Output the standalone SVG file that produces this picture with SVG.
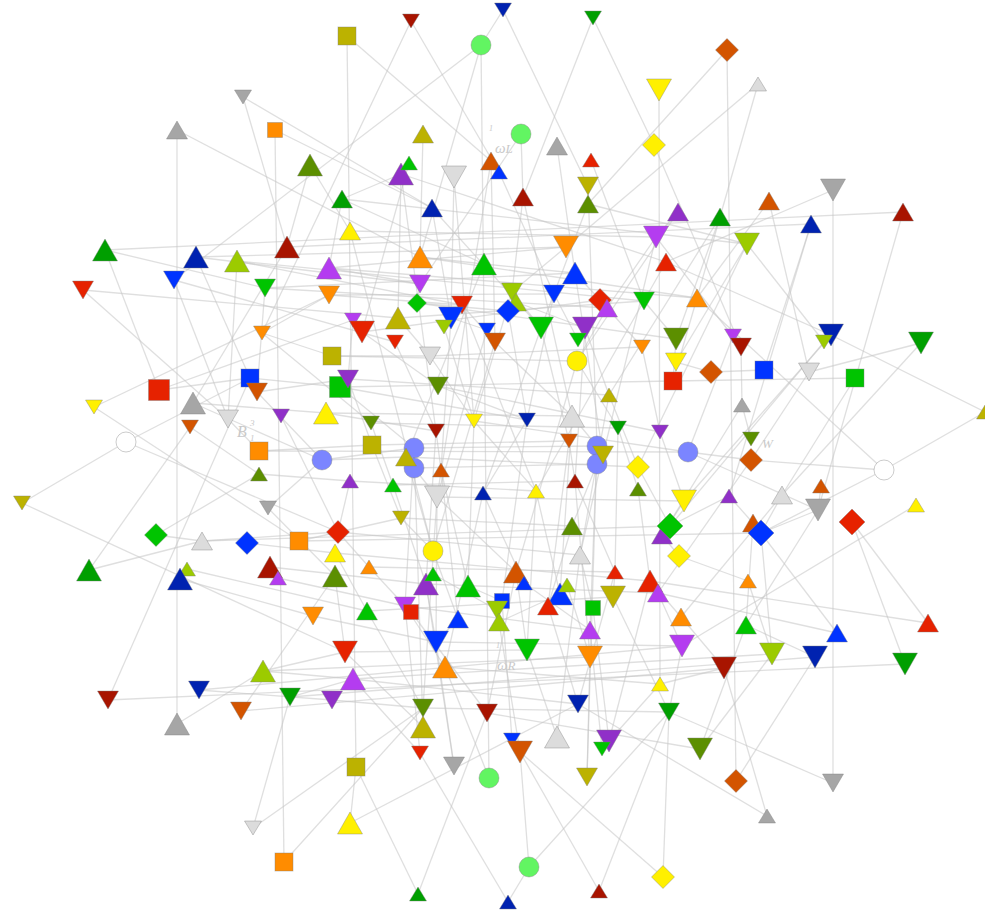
<svg xmlns="http://www.w3.org/2000/svg" width="985" height="910" viewBox="0 0 985 910">
<style>
#edges path{stroke:#c4c4c4;stroke-opacity:.55;stroke-width:1.3;fill:none}
use{stroke:#808080;stroke-opacity:.5;stroke-width:.8}
.lbl{font-family:"Liberation Serif",serif;font-style:italic;fill:#c9c9c9}
.gy{fill:#a6a6a6}.lg{fill:#dcdcdc}.or{fill:#ff8c00}.ob{fill:#d35400}.ol{fill:#bcb200}.og{fill:#5c8f00}.yg{fill:#9ccb00}.gr{fill:#009f00}.lgr{fill:#00c400}.rd{fill:#e62200}.dr{fill:#a81400}.bl{fill:#0033ff}.db{fill:#0022b0}.pu{fill:#b43cf0}.dp{fill:#9030c8}.ye{fill:#fff000}.pw{fill:#7b85ff}.mg{fill:#62f562}.wh{fill:#ffffff}
</style>
<defs>
<path id="uL" d="M0-11L12.5 11H-12.5Z"/>
<path id="uM" d="M0-9L10.5 9H-10.5Z"/>
<path id="uS" d="M0-7L8.5 7H-8.5Z"/>
<path id="dL" d="M0 11L12.5-11H-12.5Z"/>
<path id="dM" d="M0 9L10.5-9H-10.5Z"/>
<path id="dS" d="M0 7L8.5-7H-8.5Z"/>
<rect id="sL" x="-10.5" y="-10.5" width="21" height="21"/>
<rect id="sM" x="-9" y="-9" width="18" height="18"/>
<rect id="sS" x="-7.5" y="-7.5" width="15" height="15"/>
<path id="mL" d="M0-13L13 0 0 13-13 0Z"/>
<path id="mM" d="M0-11.5L11.5 0 0 11.5-11.5 0Z"/>
<path id="mS" d="M0-9.5L9.5 0 0 9.5-9.5 0Z"/>
<circle id="c" r="10"/>
</defs>
<rect width="985" height="910" fill="#fff"/>
<g id="edges">
<path d="M105 250L903 212"/><path d="M108 700L905 664"/><path d="M196 257L566 247"/><path d="M287 247L811 224"/><path d="M174 280L395 342"/><path d="M83 290L398 318"/><path d="M94 407L329 295"/><path d="M94 407L299 541"/><path d="M159 390L353 320"/><path d="M159 390L250 378"/><path d="M105 250L159 390"/><path d="M83 290L228 419"/><path d="M126 442L250 378"/><path d="M126 442L338 532"/><path d="M22 503L126 442"/><path d="M22 503L345 652"/><path d="M156 535L202 541"/><path d="M156 535L259 474"/><path d="M89 570L190 427"/><path d="M89 570L202 541"/><path d="M108 700L250 378"/><path d="M177 130L177 724"/><path d="M177 130L420 257"/><path d="M243 97L432 208"/><path d="M243 97L287 247"/><path d="M275 130L284 862"/><path d="M275 130L432 208"/><path d="M310 165L287 247"/><path d="M310 165L350 231"/><path d="M347 36L356 767"/><path d="M347 36L491 161"/><path d="M411 21L262 333"/><path d="M411 21L499 172"/><path d="M503 10L481 45"/><path d="M503 10L588 186"/><path d="M481 45L174 280"/><path d="M481 45L489 778"/><path d="M481 45L420 257"/><path d="M593 18L523 197"/><path d="M593 18L654 145"/><path d="M727 50L736 781"/><path d="M727 50L588 204"/><path d="M758 84L720 217"/><path d="M758 84L566 247"/><path d="M659 90L660 684"/><path d="M654 145L741 347"/><path d="M833 190L833 783"/><path d="M833 190L666 262"/><path d="M903 212L818 510"/><path d="M811 224L764 370"/><path d="M921 343L809 372"/><path d="M921 343L782 495"/><path d="M985 412L831 335"/><path d="M985 412L884 470"/><path d="M884 470L761 533"/><path d="M884 470L751 460"/><path d="M916 505L682 646"/><path d="M852 522L928 623"/><path d="M852 522L905 664"/><path d="M928 623L650 581"/><path d="M833 783L669 712"/><path d="M767 816L578 704"/><path d="M767 816L724 668"/><path d="M700 749L746 625"/><path d="M669 712L663 877"/><path d="M663 877L520 752"/><path d="M599 891L520 752"/><path d="M599 891L669 712"/><path d="M529 867L520 752"/><path d="M529 867L669 712"/><path d="M508 902L420 753"/><path d="M508 902L529 867"/><path d="M418 894L356 767"/><path d="M418 894L487 713"/><path d="M350 823L578 704"/><path d="M350 823L356 767"/><path d="M253 828L423 708"/><path d="M253 828L290 697"/><path d="M284 862L423 708"/><path d="M177 724L263 671"/><path d="M237 261L228 419"/><path d="M237 261L644 301"/><path d="M265 288L607 308"/><path d="M329 268L697 298"/><path d="M340 387L673 381"/><path d="M259 451L688 452"/><path d="M202 541L670 526"/><path d="M299 541L761 533"/><path d="M263 671L590 657"/><path d="M199 690L682 646"/><path d="M241 711L724 668"/><path d="M353 679L772 654"/><path d="M290 697L815 657"/><path d="M350 231L433 551"/><path d="M401 174L436 431"/><path d="M454 177L474 421"/><path d="M491 161L437 497"/><path d="M523 197L572 416"/><path d="M588 186L597 446"/><path d="M656 237L603 455"/><path d="M747 244L638 467"/><path d="M666 262L536 491"/><path d="M720 217L609 395"/><path d="M678 212L577 361"/><path d="M769 201L809 372"/><path d="M811 224L729 496"/><path d="M831 335L684 501"/><path d="M824 342L670 526"/><path d="M742 405L662 535"/><path d="M751 460L658 593"/><path d="M782 495L681 617"/><path d="M818 510L746 625"/><path d="M761 533L772 654"/><path d="M423 727L414 448"/><path d="M487 713L516 572"/><path d="M557 737L580 555"/><path d="M578 704L615 572"/><path d="M609 741L650 581"/><path d="M587 777L597 446"/><path d="M454 766L426 584"/><path d="M420 753L405 606"/><path d="M423 708L437 497"/><path d="M196 257L250 378"/><path d="M287 247L193 403"/><path d="M265 288L257 392"/><path d="M329 295L262 333"/><path d="M174 280L228 419"/><path d="M105 250L265 288"/>
<path d="M401 174L398 318"/><path d="M401 174L342 199"/><path d="M409 163L362 332"/><path d="M423 134L420 257"/><path d="M454 177L451 318"/><path d="M491 161L495 342"/><path d="M499 172L554 294"/><path d="M521 134L523 197"/><path d="M521 134L420 284"/><path d="M557 146L575 273"/><path d="M591 160L644 301"/><path d="M588 204L541 328"/><path d="M588 204L747 244"/><path d="M523 197L512 292"/><path d="M342 199L329 268"/><path d="M342 199L484 264"/><path d="M432 208L451 318"/><path d="M432 208L541 328"/><path d="M678 212L656 237"/><path d="M720 217L676 339"/><path d="M720 217L697 298"/><path d="M769 201L697 298"/><path d="M656 237L741 347"/><path d="M656 237L607 308"/><path d="M747 244L676 362"/><path d="M747 244L824 342"/><path d="M666 262L831 335"/><path d="M697 298L673 381"/><path d="M697 298L884 470"/><path d="M676 339L673 381"/><path d="M741 347L742 405"/><path d="M733 336L688 452"/><path d="M676 362L711 372"/><path d="M711 372L764 370"/><path d="M673 381L855 378"/><path d="M809 372L751 460"/><path d="M855 378L782 495"/><path d="M742 405L751 439"/><path d="M660 432L684 501"/><path d="M688 452L751 460"/>
<path d="M329 268L420 284"/><path d="M329 295L462 305"/><path d="M262 333L332 356"/><path d="M262 333L371 423"/><path d="M332 356L430 356"/><path d="M250 378L340 387"/><path d="M257 392L348 379"/><path d="M257 392L322 460"/><path d="M193 403L326 413"/><path d="M228 419L259 451"/><path d="M190 427L259 474"/><path d="M281 416L338 532"/><path d="M326 413L436 431"/><path d="M259 451L372 445"/><path d="M322 460L406 457"/><path d="M322 460L268 508"/><path d="M259 474L350 481"/><path d="M268 508L335 576"/><path d="M202 541L338 532"/><path d="M247 543L335 553"/><path d="M299 541L401 518"/><path d="M187 569L367 611"/><path d="M180 579L313 616"/><path d="M270 567L426 584"/><path d="M278 578L405 606"/><path d="M313 616L436 642"/><path d="M263 671L353 679"/><path d="M263 671L345 652"/><path d="M199 690L332 700"/><path d="M241 711L335 576"/><path d="M290 697L353 679"/><path d="M332 700L423 708"/>
<path d="M420 257L484 264"/><path d="M420 284L417 303"/><path d="M417 303L508 311"/><path d="M484 264L575 273"/><path d="M566 247L512 292"/><path d="M575 273L600 300"/><path d="M462 305L495 342"/><path d="M398 318L430 356"/><path d="M353 320L348 379"/><path d="M362 332L438 386"/><path d="M451 318L487 330"/><path d="M444 327L474 421"/><path d="M512 292L541 328"/><path d="M516 302L585 328"/><path d="M508 311L527 420"/><path d="M554 294L578 340"/><path d="M600 300L642 347"/><path d="M607 308L577 361"/><path d="M644 301L676 339"/><path d="M487 330L437 497"/><path d="M495 342L572 416"/><path d="M541 328L569 441"/><path d="M585 328L609 395"/><path d="M395 342L436 431"/><path d="M430 356L474 421"/><path d="M577 361L618 428"/><path d="M642 347L660 432"/><path d="M348 379L372 445"/><path d="M340 387L414 448"/><path d="M438 386L527 420"/><path d="M609 395L638 467"/><path d="M371 423L393 485"/><path d="M436 431L441 470"/><path d="M474 421L536 491"/><path d="M527 420L483 493"/><path d="M572 416L597 446"/><path d="M618 428L638 489"/><path d="M569 441L575 481"/><path d="M372 445L401 518"/><path d="M414 468L437 497"/><path d="M597 464L572 526"/><path d="M603 455L580 555"/><path d="M406 457L433 551"/><path d="M441 470L468 586"/><path d="M350 481L338 532"/><path d="M393 485L426 584"/><path d="M437 497L516 572"/><path d="M483 493L524 583"/><path d="M536 491L560 594"/><path d="M575 481L615 572"/><path d="M638 467L670 526"/><path d="M638 489L650 581"/><path d="M401 518L433 551"/><path d="M338 532L369 567"/><path d="M572 526L548 606"/><path d="M580 555L593 608"/><path d="M433 551L458 619"/><path d="M335 553L367 611"/><path d="M335 576L345 652"/><path d="M369 567L405 606"/><path d="M433 574L497 610"/><path d="M426 584L436 642"/><path d="M468 586L502 601"/><path d="M516 572L527 650"/><path d="M524 583L590 630"/><path d="M615 572L613 597"/><path d="M650 581L681 617"/><path d="M567 585L590 657"/><path d="M560 594L499 622"/><path d="M405 606L445 667"/><path d="M411 612L487 713"/><path d="M367 611L423 708"/><path d="M502 601L512 740"/><path d="M497 610L520 752"/><path d="M548 606L578 704"/><path d="M458 619L436 642"/><path d="M593 608L609 741"/><path d="M613 597L669 712"/><path d="M590 630L602 749"/><path d="M436 642L454 766"/><path d="M527 650L557 737"/><path d="M345 652L423 727"/><path d="M445 667L489 778"/><path d="M590 657L587 777"/><path d="M353 679L420 753"/>
<path d="M684 501L662 535"/><path d="M729 496L753 523"/><path d="M782 495L761 533"/><path d="M821 486L818 510"/><path d="M818 510L761 533"/><path d="M670 526L729 496"/><path d="M662 535L679 556"/><path d="M679 556L748 581"/><path d="M761 533L837 633"/><path d="M753 523L746 625"/><path d="M658 593L682 646"/><path d="M748 581L772 654"/><path d="M681 617L724 668"/><path d="M746 625L815 657"/><path d="M837 633L658 593"/><path d="M682 646L669 712"/><path d="M772 654L700 749"/><path d="M815 657L736 781"/><path d="M724 668L660 684"/><path d="M660 684L609 741"/><path d="M322 460L414 448"/><path d="M414 448L597 446"/><path d="M688 452L818 510"/><path d="M322 460L193 403"/><path d="M414 468L597 464"/>
<path d="M329 268L566 247"/><path d="M350 231L656 237"/><path d="M342 199L747 244"/><path d="M401 174L666 262"/><path d="M420 257L697 298"/><path d="M265 288L575 273"/><path d="M196 257L420 284"/><path d="M237 261L462 305"/><path d="M329 295L554 294"/><path d="M362 332L600 300"/><path d="M398 318L644 301"/><path d="M417 303L676 339"/><path d="M430 356L642 347"/><path d="M332 356L577 361"/><path d="M348 379L609 395"/><path d="M326 413L572 416"/><path d="M371 423L618 428"/><path d="M372 445L569 441"/><path d="M340 387L527 420"/><path d="M438 386L660 432"/><path d="M474 421L688 452"/><path d="M406 457L638 467"/><path d="M393 485L575 481"/><path d="M350 481L536 491"/><path d="M437 497L684 501"/><path d="M401 518L572 526"/><path d="M338 532L580 555"/><path d="M369 567L615 572"/><path d="M335 553L650 581"/><path d="M426 584L658 593"/><path d="M367 611L613 597"/><path d="M405 606L590 630"/><path d="M436 642L682 646"/><path d="M345 652L527 650"/><path d="M445 667L660 684"/><path d="M353 679L578 704"/><path d="M423 708L669 712"/><path d="M487 713L700 749"/>
<path d="M484 264L406 457"/><path d="M575 273L603 455"/><path d="M512 292L474 421"/><path d="M554 294L527 420"/><path d="M462 305L536 491"/><path d="M451 318L441 470"/><path d="M541 328L483 493"/><path d="M585 328L575 481"/><path d="M495 342L433 551"/><path d="M577 361L516 572"/><path d="M609 395L580 555"/><path d="M572 416L560 594"/><path d="M527 420L502 601"/><path d="M436 431L426 584"/><path d="M474 421L468 586"/><path d="M618 428L615 572"/><path d="M569 441L548 606"/><path d="M597 446L590 630"/><path d="M414 448L405 606"/><path d="M441 470L458 619"/><path d="M536 491L527 650"/><path d="M483 493L445 667"/><path d="M575 481L590 657"/><path d="M437 497L436 642"/>
</g>
<g id="labels">
<text class="lbl" x="489" y="131" font-size="8">1</text>
<text class="lbl" x="495" y="153" font-size="15">ω<tspan font-size="13">L</tspan></text>
<text class="lbl" x="237" y="437" font-size="16">B</text>
<text class="lbl" x="250" y="426" font-size="9">3</text>
<text class="lbl" x="250" y="441" font-size="9">1</text>
<text class="lbl" x="762" y="448" font-size="13">W</text>
<text class="lbl" x="496" y="648" font-size="8">1</text>
<text class="lbl" x="497" y="670" font-size="15">ω<tspan font-size="13">R</tspan></text>
</g>
<g id="nodes">
<g id="n1"><use href="#sM" x="347" y="36" class="ol"/></g>
<g id="n2"><use href="#dS" x="411" y="21" class="dr"/></g>
<g id="n3"><use href="#dS" x="503" y="10" class="db"/></g>
<g id="n4"><use href="#dS" x="593" y="18" class="gr"/></g>
<g id="n5"><use href="#c" x="481" y="45" class="mg"/></g>
<g id="n6"><use href="#mM" x="727" y="50" class="ob"/></g>
<g id="n7"><use href="#uS" x="758" y="84" class="lg"/></g>
<g id="n8"><use href="#dL" x="659" y="90" class="ye"/></g>
<g id="n9"><use href="#dS" x="243" y="97" class="gy"/></g>
<g id="n10"><use href="#uM" x="177" y="130" class="gy"/></g>
<g id="n11"><use href="#sS" x="275" y="130" class="or"/></g>
<g id="n12"><use href="#uL" x="310" y="165" class="og"/></g>
<g id="n13"><use href="#uM" x="423" y="134" class="ol"/></g>
<g id="n14"><use href="#c" x="521" y="134" class="mg"/></g>
<g id="n15"><use href="#mM" x="654" y="145" class="ye"/></g>
<g id="n16"><use href="#uM" x="557" y="146" class="gy"/></g>
<g id="n17"><use href="#uS" x="591" y="160" class="rd"/></g>
<g id="n18"><use href="#uL" x="401" y="174" class="dp"/></g>
<g id="n19"><use href="#uS" x="409" y="163" class="lgr"/></g>
<g id="n20"><use href="#dL" x="454" y="177" class="lg"/></g>
<g id="n21"><use href="#uM" x="491" y="161" class="ob"/></g>
<g id="n22"><use href="#uS" x="499" y="172" class="bl"/></g>
<g id="n23"><use href="#dM" x="588" y="186" class="ol"/></g>
<g id="n24"><use href="#uM" x="588" y="204" class="og"/></g>
<g id="n25"><use href="#uM" x="523" y="197" class="dr"/></g>
<g id="n26"><use href="#uM" x="342" y="199" class="gr"/></g>
<g id="n27"><use href="#uM" x="432" y="208" class="db"/></g>
<g id="n28"><use href="#uM" x="350" y="231" class="ye"/></g>
<g id="n29"><use href="#uM" x="678" y="212" class="dp"/></g>
<g id="n30"><use href="#uM" x="720" y="217" class="gr"/></g>
<g id="n31"><use href="#uM" x="769" y="201" class="ob"/></g>
<g id="n32"><use href="#dL" x="833" y="190" class="gy"/></g>
<g id="n33"><use href="#uM" x="903" y="212" class="dr"/></g>
<g id="n34"><use href="#uM" x="811" y="224" class="db"/></g>
<g id="n35"><use href="#dL" x="656" y="237" class="pu"/></g>
<g id="n36"><use href="#dL" x="747" y="244" class="yg"/></g>
<g id="n37"><use href="#uM" x="666" y="262" class="rd"/></g>
<g id="n38"><use href="#uM" x="697" y="298" class="or"/></g>
<g id="n39"><use href="#uL" x="105" y="250" class="gr"/></g>
<g id="n40"><use href="#uL" x="196" y="257" class="db"/></g>
<g id="n41"><use href="#uL" x="237" y="261" class="yg"/></g>
<g id="n42"><use href="#uL" x="287" y="247" class="dr"/></g>
<g id="n43"><use href="#dM" x="83" y="290" class="rd"/></g>
<g id="n44"><use href="#dM" x="174" y="280" class="bl"/></g>
<g id="n45"><use href="#dM" x="265" y="288" class="lgr"/></g>
<g id="n46"><use href="#uL" x="329" y="268" class="pu"/></g>
<g id="n47"><use href="#dM" x="329" y="295" class="or"/></g>
<g id="n48"><use href="#dS" x="262" y="333" class="or"/></g>
<g id="n49"><use href="#sM" x="332" y="356" class="ol"/></g>
<g id="n50"><use href="#sM" x="250" y="378" class="bl"/></g>
<g id="n51"><use href="#dM" x="257" y="392" class="ob"/></g>
<g id="n52"><use href="#sL" x="159" y="390" class="rd"/></g>
<g id="n53"><use href="#uL" x="193" y="403" class="gy"/></g>
<g id="n54"><use href="#dS" x="94" y="407" class="ye"/></g>
<g id="n55"><use href="#dS" x="190" y="427" class="ob"/></g>
<g id="n56"><use href="#dM" x="228" y="419" class="lg"/></g>
<g id="n57"><use href="#dS" x="281" y="416" class="dp"/></g>
<g id="n58"><use href="#uL" x="326" y="413" class="ye"/></g>
<g id="n59"><use href="#sM" x="259" y="451" class="or"/></g>
<g id="n60"><use href="#c" x="126" y="442" class="wh"/></g>
<g id="n61"><use href="#c" x="322" y="460" class="pw"/></g>
<g id="n62"><use href="#uL" x="420" y="257" class="or"/></g>
<g id="n63"><use href="#dM" x="420" y="284" class="pu"/></g>
<g id="n64"><use href="#mS" x="417" y="303" class="lgr"/></g>
<g id="n65"><use href="#uL" x="484" y="264" class="lgr"/></g>
<g id="n66"><use href="#dL" x="566" y="247" class="or"/></g>
<g id="n67"><use href="#uL" x="575" y="273" class="bl"/></g>
<g id="n68"><use href="#dM" x="462" y="305" class="rd"/></g>
<g id="n69"><use href="#uL" x="398" y="318" class="ol"/></g>
<g id="n70"><use href="#dS" x="353" y="320" class="pu"/></g>
<g id="n71"><use href="#dL" x="362" y="332" class="rd"/></g>
<g id="n72"><use href="#dL" x="451" y="318" class="bl"/></g>
<g id="n73"><use href="#dS" x="444" y="327" class="yg"/></g>
<g id="n74"><use href="#dM" x="512" y="292" class="yg"/></g>
<g id="n75"><use href="#uM" x="516" y="302" class="yg"/></g>
<g id="n76"><use href="#mM" x="508" y="311" class="bl"/></g>
<g id="n77"><use href="#dM" x="554" y="294" class="bl"/></g>
<g id="n78"><use href="#mM" x="600" y="300" class="rd"/></g>
<g id="n79"><use href="#uM" x="607" y="308" class="pu"/></g>
<g id="n80"><use href="#dM" x="644" y="301" class="lgr"/></g>
<g id="n81"><use href="#dS" x="487" y="330" class="bl"/></g>
<g id="n82"><use href="#dM" x="495" y="342" class="ob"/></g>
<g id="n83"><use href="#dL" x="541" y="328" class="lgr"/></g>
<g id="n84"><use href="#dL" x="585" y="328" class="dp"/></g>
<g id="n85"><use href="#dS" x="578" y="340" class="lgr"/></g>
<g id="n86"><use href="#dS" x="395" y="342" class="rd"/></g>
<g id="n87"><use href="#dM" x="430" y="356" class="lg"/></g>
<g id="n88"><use href="#c" x="577" y="361" class="ye"/></g>
<g id="n89"><use href="#dS" x="642" y="347" class="or"/></g>
<g id="n90"><use href="#sL" x="340" y="387" class="lgr"/></g>
<g id="n91"><use href="#dM" x="348" y="379" class="dp"/></g>
<g id="n92"><use href="#dM" x="438" y="386" class="og"/></g>
<g id="n93"><use href="#uS" x="609" y="395" class="ol"/></g>
<g id="n94"><use href="#dS" x="371" y="423" class="og"/></g>
<g id="n95"><use href="#dS" x="436" y="431" class="dr"/></g>
<g id="n96"><use href="#dS" x="474" y="421" class="ye"/></g>
<g id="n97"><use href="#dS" x="527" y="420" class="db"/></g>
<g id="n98"><use href="#uL" x="572" y="416" class="lg"/></g>
<g id="n99"><use href="#dS" x="618" y="428" class="gr"/></g>
<g id="n100"><use href="#dS" x="569" y="441" class="ob"/></g>
<g id="n101"><use href="#sM" x="372" y="445" class="ol"/></g>
<g id="n102"><use href="#c" x="414" y="448" class="pw"/></g>
<g id="n103"><use href="#c" x="414" y="468" class="pw"/></g>
<g id="n104"><use href="#uM" x="406" y="457" class="ol"/></g>
<g id="n105"><use href="#c" x="597" y="446" class="pw"/></g>
<g id="n106"><use href="#c" x="597" y="464" class="pw"/></g>
<g id="n107"><use href="#dM" x="603" y="455" class="ol"/></g>
<g id="n108"><use href="#dS" x="660" y="432" class="dp"/></g>
<g id="n109"><use href="#dL" x="676" y="339" class="og"/></g>
<g id="n110"><use href="#dS" x="733" y="336" class="pu"/></g>
<g id="n111"><use href="#dM" x="741" y="347" class="dr"/></g>
<g id="n112"><use href="#dL" x="831" y="335" class="db"/></g>
<g id="n113"><use href="#dS" x="824" y="342" class="yg"/></g>
<g id="n114"><use href="#dL" x="921" y="343" class="gr"/></g>
<g id="n115"><use href="#dM" x="676" y="362" class="ye"/></g>
<g id="n116"><use href="#mM" x="711" y="372" class="ob"/></g>
<g id="n117"><use href="#sM" x="673" y="381" class="rd"/></g>
<g id="n118"><use href="#sM" x="764" y="370" class="bl"/></g>
<g id="n119"><use href="#dM" x="809" y="372" class="lg"/></g>
<g id="n120"><use href="#sM" x="855" y="378" class="lgr"/></g>
<g id="n121"><use href="#uS" x="742" y="405" class="gy"/></g>
<g id="n122"><use href="#dS" x="751" y="439" class="og"/></g>
<g id="n123"><use href="#c" x="688" y="452" class="pw"/></g>
<g id="n124"><use href="#mM" x="751" y="460" class="ob"/></g>
<g id="n125"><use href="#uS" x="985" y="412" class="ol"/></g>
<g id="n126"><use href="#c" x="884" y="470" class="wh"/></g>
<g id="n127"><use href="#dL" x="684" y="501" class="ye"/></g>
<g id="n128"><use href="#uS" x="729" y="496" class="dp"/></g>
<g id="n129"><use href="#uM" x="782" y="495" class="lg"/></g>
<g id="n130"><use href="#uS" x="821" y="486" class="ob"/></g>
<g id="n131"><use href="#dL" x="818" y="510" class="gy"/></g>
<g id="n132"><use href="#mL" x="852" y="522" class="rd"/></g>
<g id="n133"><use href="#uS" x="916" y="505" class="ye"/></g>
<g id="n134"><use href="#uM" x="662" y="535" class="dp"/></g>
<g id="n135"><use href="#mL" x="670" y="526" class="lgr"/></g>
<g id="n136"><use href="#uM" x="753" y="523" class="ob"/></g>
<g id="n137"><use href="#mL" x="761" y="533" class="bl"/></g>
<g id="n138"><use href="#mM" x="679" y="556" class="ye"/></g>
<g id="n189"><use href="#uL" x="650" y="581" class="rd"/></g>
<g id="n139"><use href="#uM" x="658" y="593" class="pu"/></g>
<g id="n140"><use href="#uS" x="748" y="581" class="or"/></g>
<g id="n141"><use href="#uM" x="681" y="617" class="or"/></g>
<g id="n142"><use href="#uM" x="746" y="625" class="lgr"/></g>
<g id="n143"><use href="#uM" x="837" y="633" class="bl"/></g>
<g id="n144"><use href="#uM" x="928" y="623" class="rd"/></g>
<g id="n145"><use href="#dL" x="682" y="646" class="pu"/></g>
<g id="n146"><use href="#dL" x="772" y="654" class="yg"/></g>
<g id="n147"><use href="#dL" x="815" y="657" class="db"/></g>
<g id="n148"><use href="#dL" x="724" y="668" class="dr"/></g>
<g id="n149"><use href="#dL" x="905" y="664" class="gr"/></g>
<g id="n150"><use href="#uS" x="660" y="684" class="ye"/></g>
<g id="n151"><use href="#dS" x="22" y="503" class="ol"/></g>
<g id="n152"><use href="#mM" x="156" y="535" class="lgr"/></g>
<g id="n153"><use href="#uM" x="202" y="541" class="lg"/></g>
<g id="n154"><use href="#mM" x="247" y="543" class="bl"/></g>
<g id="n155"><use href="#sM" x="299" y="541" class="or"/></g>
<g id="n156"><use href="#uL" x="89" y="570" class="gr"/></g>
<g id="n158"><use href="#uS" x="187" y="569" class="yg"/></g>
<g id="n157"><use href="#uL" x="180" y="579" class="db"/></g>
<g id="n159"><use href="#uL" x="270" y="567" class="dr"/></g>
<g id="n160"><use href="#uS" x="278" y="578" class="pu"/></g>
<g id="n161"><use href="#dM" x="313" y="616" class="or"/></g>
<g id="n162"><use href="#uL" x="263" y="671" class="yg"/></g>
<g id="n163"><use href="#dM" x="199" y="690" class="db"/></g>
<g id="n164"><use href="#uS" x="259" y="474" class="og"/></g>
<g id="n165"><use href="#dS" x="268" y="508" class="gy"/></g>
<g id="n166"><use href="#uS" x="441" y="470" class="ob"/></g>
<g id="n167"><use href="#uS" x="350" y="481" class="dp"/></g>
<g id="n168"><use href="#uS" x="393" y="485" class="lgr"/></g>
<g id="n169"><use href="#dL" x="437" y="497" class="lg"/></g>
<g id="n170"><use href="#uS" x="483" y="493" class="db"/></g>
<g id="n171"><use href="#uS" x="536" y="491" class="ye"/></g>
<g id="n172"><use href="#uS" x="575" y="481" class="dr"/></g>
<g id="n173"><use href="#mM" x="638" y="467" class="ye"/></g>
<g id="n174"><use href="#uS" x="638" y="489" class="og"/></g>
<g id="n175"><use href="#dS" x="401" y="518" class="ol"/></g>
<g id="n176"><use href="#mM" x="338" y="532" class="rd"/></g>
<g id="n177"><use href="#uM" x="572" y="526" class="og"/></g>
<g id="n178"><use href="#uM" x="580" y="555" class="lg"/></g>
<g id="n179"><use href="#c" x="433" y="551" class="ye"/></g>
<g id="n180"><use href="#uM" x="335" y="553" class="ye"/></g>
<g id="n181"><use href="#uL" x="335" y="576" class="og"/></g>
<g id="n182"><use href="#uS" x="369" y="567" class="or"/></g>
<g id="n183"><use href="#uL" x="426" y="584" class="dp"/></g>
<g id="n184"><use href="#uS" x="433" y="574" class="lgr"/></g>
<g id="n185"><use href="#uL" x="468" y="586" class="lgr"/></g>
<g id="n186"><use href="#uL" x="516" y="572" class="ob"/></g>
<g id="n187"><use href="#uS" x="524" y="583" class="bl"/></g>
<g id="n188"><use href="#uS" x="615" y="572" class="rd"/></g>
<g id="n191"><use href="#uL" x="560" y="594" class="bl"/></g>
<g id="n190"><use href="#uS" x="567" y="585" class="yg"/></g>
<g id="n192"><use href="#dM" x="405" y="606" class="pu"/></g>
<g id="n193"><use href="#sS" x="411" y="612" class="rd"/></g>
<g id="n194"><use href="#uM" x="367" y="611" class="lgr"/></g>
<g id="n195"><use href="#sS" x="502" y="601" class="bl"/></g>
<g id="n196"><use href="#dM" x="497" y="610" class="yg"/></g>
<g id="n197"><use href="#uM" x="499" y="622" class="yg"/></g>
<g id="n198"><use href="#uM" x="548" y="606" class="rd"/></g>
<g id="n199"><use href="#uM" x="458" y="619" class="bl"/></g>
<g id="n200"><use href="#sS" x="593" y="608" class="lgr"/></g>
<g id="n201"><use href="#dL" x="613" y="597" class="ol"/></g>
<g id="n202"><use href="#uM" x="590" y="630" class="pu"/></g>
<g id="n203"><use href="#dL" x="436" y="642" class="bl"/></g>
<g id="n204"><use href="#dL" x="527" y="650" class="lgr"/></g>
<g id="n205"><use href="#dL" x="345" y="652" class="rd"/></g>
<g id="n206"><use href="#uL" x="445" y="667" class="or"/></g>
<g id="n207"><use href="#dL" x="590" y="657" class="or"/></g>
<g id="n208"><use href="#uL" x="353" y="679" class="pu"/></g>
<g id="n209"><use href="#dM" x="108" y="700" class="dr"/></g>
<g id="n210"><use href="#uL" x="177" y="724" class="gy"/></g>
<g id="n211"><use href="#dM" x="241" y="711" class="ob"/></g>
<g id="n212"><use href="#dM" x="290" y="697" class="gr"/></g>
<g id="n213"><use href="#dM" x="332" y="700" class="dp"/></g>
<g id="n214"><use href="#dS" x="253" y="828" class="lg"/></g>
<g id="n215"><use href="#sM" x="284" y="862" class="or"/></g>
<g id="n216"><use href="#dM" x="423" y="708" class="og"/></g>
<g id="n217"><use href="#uL" x="423" y="727" class="ol"/></g>
<g id="n218"><use href="#dS" x="420" y="753" class="rd"/></g>
<g id="n219"><use href="#dM" x="487" y="713" class="dr"/></g>
<g id="n220"><use href="#dS" x="512" y="740" class="bl"/></g>
<g id="n221"><use href="#dL" x="520" y="752" class="ob"/></g>
<g id="n222"><use href="#uL" x="557" y="737" class="lg"/></g>
<g id="n223"><use href="#dM" x="578" y="704" class="db"/></g>
<g id="n224"><use href="#dL" x="609" y="741" class="dp"/></g>
<g id="n225"><use href="#dS" x="602" y="749" class="lgr"/></g>
<g id="n226"><use href="#dM" x="587" y="777" class="ol"/></g>
<g id="n227"><use href="#dM" x="454" y="766" class="gy"/></g>
<g id="n228"><use href="#sM" x="356" y="767" class="ol"/></g>
<g id="n229"><use href="#c" x="489" y="778" class="mg"/></g>
<g id="n230"><use href="#uL" x="350" y="823" class="ye"/></g>
<g id="n231"><use href="#c" x="529" y="867" class="mg"/></g>
<g id="n232"><use href="#uS" x="418" y="894" class="gr"/></g>
<g id="n233"><use href="#uS" x="508" y="902" class="db"/></g>
<g id="n234"><use href="#uS" x="599" y="891" class="dr"/></g>
<g id="n235"><use href="#mM" x="663" y="877" class="ye"/></g>
<g id="n236"><use href="#dM" x="669" y="712" class="gr"/></g>
<g id="n237"><use href="#dL" x="700" y="749" class="og"/></g>
<g id="n238"><use href="#mM" x="736" y="781" class="ob"/></g>
<g id="n239"><use href="#uS" x="767" y="816" class="gy"/></g>
<g id="n240"><use href="#dM" x="833" y="783" class="gy"/></g>
</g>
</svg>
